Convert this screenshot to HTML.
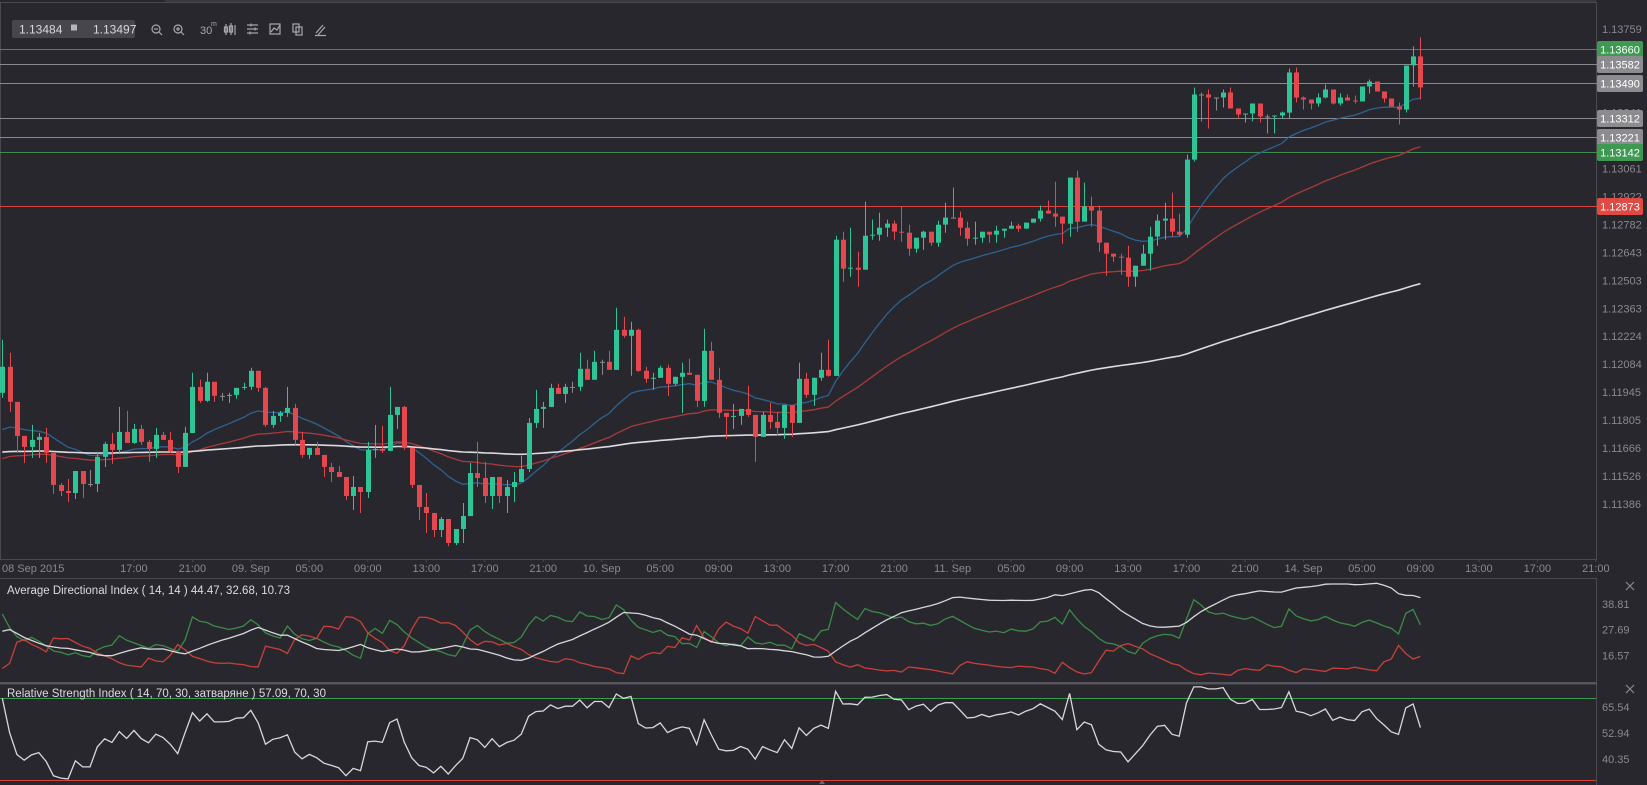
<!DOCTYPE html>
<html><head><meta charset="utf-8"><style>
html,body{margin:0;padding:0;background:#28272d;}
svg{display:block;font-family:"Liberation Sans",sans-serif;}
</style></head><body>
<svg id="chart" width="1647" height="785" viewBox="0 0 1647 785" xmlns="http://www.w3.org/2000/svg">
<rect x="0" y="0" width="1647" height="785" fill="#28272d"/>
<line x1="165" y1="1" x2="1596" y2="1" stroke="#4a4950"/>
<g>
<rect x="12" y="20" width="123" height="18" rx="2" fill="#47464d"/>
<text x="19" y="33.5" font-size="12" fill="#d8d8dc">1.13484</text>
<rect x="71" y="24.5" width="6" height="6" fill="#b5b5bb"/>
<text x="93" y="33.5" font-size="12" fill="#d8d8dc">1.13497</text>
<g stroke="#a8a8ae" fill="none" stroke-width="1.2">
<g><circle cx="156" cy="29" r="4"/><line x1="154" y1="29" x2="158" y2="29"/><line x1="159" y1="32" x2="162" y2="35"/></g>
<g><circle cx="178" cy="29" r="4"/><line x1="176" y1="29" x2="180" y2="29"/><line x1="178" y1="27" x2="178" y2="31"/><line x1="181" y1="32" x2="184" y2="35"/></g>
<g><line x1="226" y1="24" x2="226" y2="35"/><rect x="224.5" y="27" width="3" height="5"/><line x1="231" y1="23" x2="231" y2="35"/><rect x="229.5" y="26" width="3" height="6"/><line x1="235" y1="25" x2="235" y2="35"/></g>
<g><line x1="247" y1="25" x2="258" y2="25"/><line x1="247" y1="29" x2="258" y2="29"/><line x1="247" y1="33" x2="258" y2="33"/><line x1="251" y1="23.5" x2="251" y2="26.5"/><line x1="255" y1="27.5" x2="255" y2="30.5"/><line x1="250" y1="31.5" x2="250" y2="34.5"/></g>
<g><rect x="270" y="24" width="10" height="10"/><polyline points="271,32 274,28 277,30 280,25"/></g>
<g><rect x="293" y="24" width="6" height="8"/><rect x="296" y="27" width="6" height="8"/></g>
<g><line x1="316" y1="33" x2="323" y2="25"/><line x1="318" y1="35" x2="325" y2="27"/><line x1="315" y1="35.5" x2="326" y2="35.5"/></g>
</g>
<text x="200" y="34" font-size="11" fill="#a8a8ae">30</text>
<text x="211" y="26" font-size="7" fill="#a8a8ae">m</text>
</g>
<g id="frames">
<rect x="0.5" y="2.5" width="1596" height="557" fill="none" stroke="#4a4950"/>
<line x1="0" y1="578.5" x2="1597" y2="578.5" stroke="#4a4950"/>
<line x1="1596.5" y1="578" x2="1596.5" y2="785" stroke="#4a4950"/>
<rect x="0" y="682" width="1597" height="2.5" fill="#56555c"/>
</g>
<g id="priceTicks"></g>
<g id="levels"></g>
<g id="mas"></g>
<g id="candles"></g>
<g id="levelLabels"></g>
<g id="timeAxis"></g>
<text x="7" y="594" font-size="11.5" fill="#dcdce0">Average Directional Index ( 14, 14 ) 44.47, 32.68, 10.73</text>
<g id="adx"></g>
<g id="rsi"></g>
<text x="7" y="697" font-size="11.5" fill="#dcdce0">Relative Strength Index ( 14, 70, 30, затваряне ) 57.09, 70, 30</text>
<g stroke="#8a8990" stroke-width="1.2">
<g><line x1="1626" y1="582" x2="1634" y2="590"/><line x1="1634" y1="582" x2="1626" y2="590"/></g>
<g><line x1="1626" y1="685" x2="1634" y2="693"/><line x1="1634" y1="685" x2="1626" y2="693"/></g>
</g>
<polygon points="819,784 822,780 825,784" fill="#6a6970"/>
</svg>
<script>
// ---- data (prices in 1e-5 units) ----
const firstOpen = 111941;
const closes = [112071,111896,111726,111671,111706,111721,111641,111481,111451,111441,111551,111486,111486,111621,111686,111656,111746,111691,111761,111696,111661,111731,111706,111651,111571,111741,111971,111901,111996,111926,111926,111931,111966,111971,112051,111966,111781,111826,111841,111866,111706,111631,111666,111631,111571,111546,111521,111426,111471,111446,111656,111661,111651,111831,111871,111666,111481,111371,111341,111256,111311,111191,111261,111326,111541,111516,111426,111521,111426,111471,111496,111561,111791,111861,111871,111966,111936,111971,111971,112061,112006,112096,112096,112056,112256,112226,112256,112051,112011,112016,112066,111986,112021,112041,112031,111901,112151,112006,111841,111821,111826,111861,111831,111721,111831,111796,111766,111881,111791,112011,111931,112016,112056,112026,112706,112561,112566,112556,112726,112731,112766,112786,112746,112741,112661,112716,112746,112691,112781,112816,112816,112766,112711,112716,112746,112731,112751,112761,112776,112761,112791,112811,112851,112836,112821,112786,113016,112796,112871,112851,112691,112636,112621,112616,112521,112576,112636,112721,112801,112811,112746,112731,113106,113431,113431,113416,113416,113441,113361,113331,113336,113386,113321,113321,113326,113341,113541,113416,113406,113386,113416,113456,113386,113416,113401,113396,113471,113496,113446,113411,113371,113356,113576,113621,113466];
const highs = [112206,112141,111891,111716,111781,111741,111766,111631,111491,111511,111551,111551,111556,111646,111696,111741,111871,111851,111786,111781,111706,111766,111746,111746,111641,111771,112041,112006,112041,111996,111941,111941,111966,111991,112066,112041,111971,111851,111851,111971,111886,111746,111666,111696,111621,111591,111576,111516,111526,111466,111696,111781,111776,111971,111871,111876,111651,111481,111441,111341,111321,111311,111261,111391,111591,111696,111596,111521,111521,111506,111546,111626,111816,111956,111896,111986,111986,111986,111996,112141,112106,112151,112106,112151,112366,112321,112296,112261,112071,112041,112076,112081,112021,112091,112111,112031,112261,112196,112066,111841,111886,111861,111976,111831,111846,111891,111846,111881,111881,112091,112041,112016,112141,112206,112726,112746,112766,112646,112896,112806,112841,112806,112801,112871,112781,112716,112751,112746,112801,112891,112966,112846,112796,112796,112746,112746,112776,112761,112796,112786,112791,112811,112876,112901,112996,112821,113016,113051,112991,112921,112876,112691,112636,112636,112676,112576,112681,112771,112831,112891,112941,112836,113131,113466,113441,113456,113416,113456,113466,113361,113336,113386,113386,113331,113326,113346,113561,113566,113421,113406,113436,113481,113456,113436,113431,113426,113471,113506,113496,113446,113411,113391,113576,113671,113716];
const lows = [111916,111846,111641,111591,111616,111616,111591,111436,111426,111396,111411,111416,111471,111446,111571,111586,111641,111691,111686,111681,111596,111616,111706,111641,111541,111571,111746,111891,111896,111896,111901,111891,111911,111956,111956,111946,111771,111766,111796,111821,111681,111616,111611,111631,111521,111496,111521,111406,111356,111341,111416,111616,111641,111656,111761,111656,111466,111306,111241,111221,111221,111176,111181,111191,111326,111471,111391,111361,111391,111341,111396,111496,111546,111766,111766,111871,111936,111891,111941,111951,112006,112006,112031,112056,112056,112216,112026,112046,111991,111956,112016,111926,111976,111841,112031,111871,111871,112006,111816,111711,111761,111781,111821,111596,111721,111761,111726,111711,111721,111791,111916,111876,112001,112021,112026,112496,112521,112471,112556,112706,112701,112721,112706,112696,112626,112641,112656,112676,112671,112741,112816,112726,112676,112681,112691,112691,112691,112716,112761,112746,112761,112791,112796,112836,112771,112686,112721,112746,112796,112771,112646,112526,112596,112531,112471,112471,112576,112551,112676,112706,112721,112721,112716,113096,113296,113261,113351,113366,113361,113311,113291,113296,113291,113236,113236,113311,113311,113391,113356,113356,113371,113411,113381,113376,113401,113386,113396,113436,113446,113391,113371,113281,113341,113471,113406];
const priceTicks = [1.13759,1.13620,1.13480,1.13341,1.13201,1.13061,1.12922,1.12782,1.12643,1.12503,1.12363,1.12224,1.12084,1.11945,1.11805,1.11666,1.11526,1.11386];
const levelPrices = [1.13660,1.13582,1.13490,1.13312,1.13221,1.13142,1.12873];
const levelKinds = ["green","gray","gray","gray","gray","green","red"];
const timeLabels = ["17:00","21:00","09. Sep","05:00","09:00","13:00","17:00","21:00","10. Sep","05:00","09:00","13:00","17:00","21:00","11. Sep","05:00","09:00","13:00","17:00","21:00","14. Sep","05:00","09:00","13:00","17:00","21:00"];
const maPeriods = [21,55,200];
const maSeeds = [111726,111596,111641];
const adxTicks = [38.81,27.69,16.57];
const rsiTicks = [65.54,52.94,40.35];
const rsiLevels = [70,30];
// indicator warm-up state (values before the first visible bar)
const adxSeed = {tr:0.0011, pdm:0.00038, mdm:0.00012, adx:27};
const rsiSeed = {gain:0.0003, loss:0.00013};

// ---- scales ----
const NS="http://www.w3.org/2000/svg";
const C = closes.map(v=>v/1e5), H = highs.map(v=>v/1e5), L = lows.map(v=>v/1e5);
const O = [firstOpen/1e5].concat(C.slice(0,-1));
const N = C.length;
const xOf = i => 2.3 + i*7.31;
const yP = p => 504 - (p-1.11386)*20025;
const yAdx = v => 604 + (38.81-v)*2.311;
const yRsi = v => 707 + (65.54-v)*2.063;
function mk(tag, attrs, parent){const e=document.createElementNS(NS,tag);for(const k in attrs)e.setAttribute(k,attrs[k]);parent.appendChild(e);return e;}
const gId = id=>document.getElementById(id);

// price ticks
priceTicks.forEach((p,i)=>{
  const t=mk('text',{x:1602,y:(yP(p)+4).toFixed(1),'font-size':11,fill:'#8a8990'},gId('priceTicks'));
  
  
  t.textContent=p.toFixed(5);
});
// level lines and labels
const levelColors={green:['#3f8a4c','#3d9a50'],gray:['#8a8a8e','#8c8c90'],red:['#d9433e','#e04a44']};
levelPrices.forEach((p,i)=>{
  const y=Math.round(yP(p))+0.5, col=levelColors[levelKinds[i]];
  const l=mk('line',{x1:0,x2:1597,y1:y,y2:y,stroke:col[0],'stroke-width':1},gId('levels'));
  
  
  const r=mk('rect',{x:1597,y:y-8.5,width:46,height:17,rx:2,fill:col[1]},gId('levelLabels'));
  
  
  const t=mk('text',{x:1620,y:y+4,'font-size':11,fill:'#ffffff','text-anchor':'middle'},gId('levelLabels'));
  
  
  t.textContent=p.toFixed(5);
});
// moving averages
const maColors=['#2f6290','#a93a3b','#dcdce0'];
maPeriods.forEach((per,m)=>{
  let v=maSeeds[m]/1e5; const a=2/(per+1); const pts=[];
  for(let i=0;i<N;i++){v=v+a*(C[i]-v);pts.push(xOf(i).toFixed(1)+','+yP(v).toFixed(1));}
  const pl=mk('polyline',{points:pts.join(' '),fill:'none',stroke:maColors[m],'stroke-width':m===2?1.6:1.3},gId('mas'));
  
  
});
// candles
for(let i=0;i<N;i++){
  const o=O[i],c=C[i],hi=Math.max(H[i],o,c),lo=Math.min(L[i],o,c);
  const col=c>o?'#2ec495':(c<o?'#e2484d':'#8a8a8e');
  const x=Math.round(xOf(i));
  const g=mk('g',{},gId('candles'));
  
  
  mk('line',{x1:x+0.5,x2:x+0.5,y1:yP(hi).toFixed(1),y2:yP(lo).toFixed(1),stroke:col,'stroke-width':1},g);
  const top=yP(Math.max(o,c)),bot=yP(Math.min(o,c));
  mk('rect',{x:x-2,y:top.toFixed(1),width:5,height:Math.max(1,bot-top).toFixed(1),fill:col},g);
}
// time axis
const ta=gId('timeAxis');
const t0=mk('text',{x:2,y:572,'font-size':11,fill:'#8a8990'},ta);


t0.textContent='08 Sep 2015';
timeLabels.forEach((s,i)=>{
  const x=xOf(18+8*i);
  const t=mk('text',{x:x.toFixed(1),y:572,'font-size':11,fill:'#8a8990','text-anchor':'middle'},ta);
  
  
  t.textContent=s;
  mk('line',{x1:x.toFixed(1),x2:x.toFixed(1),y1:560,y2:562,stroke:'#4a4950'},ta);
});
// ADX
const adxG=gId('adx');
adxTicks.forEach(v=>{
  const t=mk('text',{x:1602,y:(yAdx(v)+4).toFixed(1),'font-size':11,fill:'#8a8990'},adxG);
  
  
  t.textContent=v.toFixed(2);
});
let tr=adxSeed.tr,pd=adxSeed.pdm,md=adxSeed.mdm,adx=adxSeed.adx;
const pP=[],mP=[],aP=[];
for(let i=0;i<N;i++){
  if(i>0){
    const trv=Math.max(H[i]-L[i],Math.abs(H[i]-C[i-1]),Math.abs(L[i]-C[i-1]));
    const up=H[i]-H[i-1],dn=L[i-1]-L[i];
    const pdm=(up>dn&&up>0)?up:0, mdm=(dn>up&&dn>0)?dn:0;
    tr+= (trv-tr)/14; pd+=(pdm-pd)/14; md+=(mdm-md)/14;
  }
  const pdi=100*pd/tr, mdi=100*md/tr;
  const dx=100*Math.abs(pdi-mdi)/(pdi+mdi||1);
  if(i>0) adx+=(dx-adx)/14;
  const clip=y=>Math.min(681,Math.max(580,y)).toFixed(1);
  const x=xOf(i).toFixed(1);
  pP.push(x+','+clip(yAdx(pdi)));mP.push(x+','+clip(yAdx(mdi)));aP.push(x+','+clip(yAdx(adx)));
}
[[pP,'#3c8a4a','plus-di-line'],[mP,'#c8403c','minus-di-line'],[aP,'#d8d8dc','adx-line']].forEach(s=>{
  const pl=mk('polyline',{points:s[0].join(' '),fill:'none',stroke:s[1],'stroke-width':1.3},adxG);
  
  
});
// RSI
const rsiG=gId('rsi');
rsiTicks.forEach(v=>{
  const t=mk('text',{x:1602,y:(yRsi(v)+4).toFixed(1),'font-size':11,fill:'#8a8990'},rsiG);
  
  
  t.textContent=v.toFixed(2);
});
rsiLevels.forEach((v,i)=>{
  const y=Math.round(yRsi(v))+0.5;
  const l=mk('line',{x1:0,x2:1596,y1:y,y2:y,stroke:i===0?'#3c9a4f':'#d9433e','stroke-width':1},rsiG);
  
  
});
let ag=rsiSeed.gain,al=rsiSeed.loss; const rP=[];
for(let i=0;i<N;i++){
  if(i>0){const d=C[i]-C[i-1];ag+=((d>0?d:0)-ag)/14;al+=((d<0?-d:0)-al)/14;}
  const rsi=100-100/(1+ag/(al||1e-9));
  rP.push(xOf(i).toFixed(1)+','+Math.min(783,Math.max(686,yRsi(rsi))).toFixed(1));
}
const rl=mk('polyline',{points:rP.join(' '),fill:'none',stroke:'#d8d8dc','stroke-width':1.3},rsiG);


</script>
</body></html>
